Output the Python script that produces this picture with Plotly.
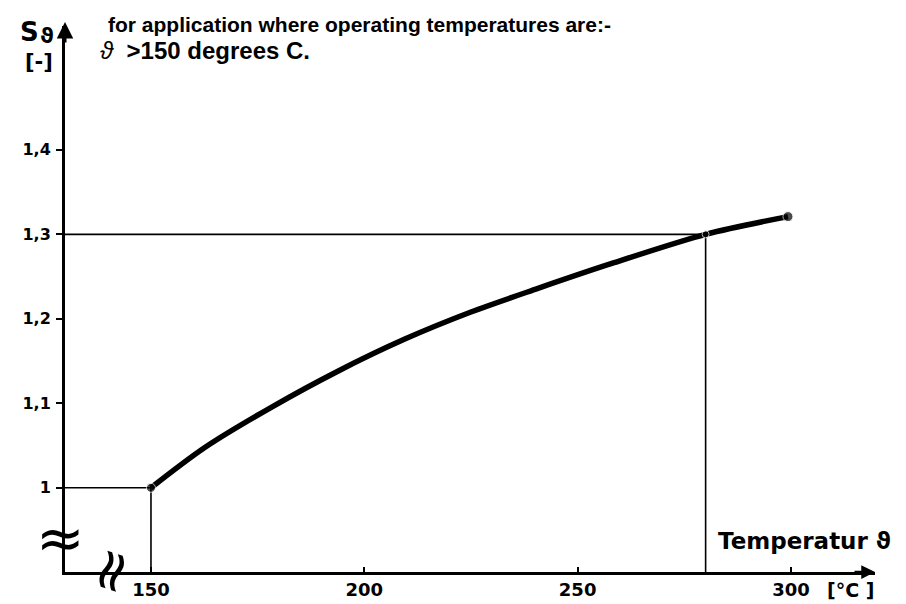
import plotly.graph_objects as go

# ---- data ----
curve_temp = [150, 162.7, 178.1, 193.8, 209.5, 225.0, 240.7, 257.1, 280, 299.3]
curve_s    = [1.000, 1.048, 1.095, 1.138, 1.176, 1.208, 1.236, 1.264, 1.300, 1.321]

point_temp = [150, 280, 299.3]
point_s    = [1.000, 1.300, 1.321]
point_size = [9, 7, 10]

guide_temp = [150, 280]
guide_s    = [1.0, 1.3]

x_ticks = [150, 200, 250, 300]
x_ticktext = ["150", "200", "250", "300"]
y_ticks = [1.0, 1.1, 1.2, 1.3, 1.4]
y_ticktext = ["1", "1,1", "1,2", "1,3", "1,4"]

x_range = [129.85, 319.7]
y_range = [0.9003, 1.5466]

W, H = 906, 604
ML, MR, MT, MB = 57, 39, 18, 35
PW, PH = W - ML - MR, H - MT - MB


def px(x):
    return (x - ML) / PW


def py(y):
    return (H - MB - y) / PH


fig = go.Figure()

# guide lines
for t, s in zip(guide_temp, guide_s):
    fig.add_trace(go.Scatter(x=[x_range[0], t, t], y=[s, s, y_range[0]],
                             mode="lines", line=dict(color="black", width=1.6),
                             hoverinfo="skip", showlegend=False))

# main curve
fig.add_trace(go.Scatter(x=curve_temp, y=curve_s, mode="lines",
                         line=dict(color="black", width=5.5, shape="spline", smoothing=0.9),
                         showlegend=False))

fig.add_trace(go.Scatter(x=point_temp, y=point_s, mode="markers",
                         marker=dict(color="black", size=point_size),
                         showlegend=False))

tick_font = dict(family="DejaVu Sans", size=18, color="black", weight="bold")

fig.update_xaxes(range=x_range, tickvals=x_ticks, ticktext=x_ticktext,
                 showline=True, linecolor="black", linewidth=2.5,
                 ticks="inside", ticklen=5, tickwidth=2, tickcolor="black",
                 showgrid=False, zeroline=False, tickfont=tick_font)
fig.update_yaxes(range=y_range, tickvals=y_ticks, ticktext=y_ticktext,
                 showline=True, linecolor="black", linewidth=3,
                 ticks="outside", ticklen=6, tickwidth=2, tickcolor="black",
                 ticklabelstandoff=2,
                 showgrid=False, zeroline=False,
                 tickfont=dict(family="DejaVu Sans", size=16, color="black", weight="bold"))

ann = []
# axis arrows
ann.append(dict(xref="paper", yref="paper", x=1.0, y=0, ax=-22, ay=0,
                showarrow=True, arrowhead=2, arrowsize=1.1, arrowwidth=2.5,
                arrowcolor="black", text=""))
ann.append(dict(xref="paper", yref="paper", x=0, y=py(14), ax=0, ay=22,
                showarrow=True, arrowhead=2, arrowsize=1.1, arrowwidth=3,
                arrowcolor="black", text=""))
# titles
ann.append(dict(xref="paper", yref="paper", x=px(98), y=py(16), xanchor="left", yanchor="middle",
                text="for application where operating temperatures are:-", showarrow=False,
                font=dict(family="Liberation Sans", size=21, color="black", weight="bold")))
ann.append(dict(xref="paper", yref="paper", x=px(90), y=py(43), xanchor="left", yanchor="middle",
                text="<i>ϑ</i>  <b>&gt;150 degrees C.</b>", showarrow=False,
                font=dict(family="Liberation Sans", size=24, color="black")))
# y axis label
ann.append(dict(xref="paper", yref="paper", x=px(21), y=py(24), xanchor="center", yanchor="middle",
                text="S", showarrow=False,
                font=dict(family="DejaVu Sans", size=26, color="black", weight="bold")))
ann.append(dict(xref="paper", yref="paper", x=px(39), y=py(28), xanchor="center", yanchor="middle",
                text="ϑ", showarrow=False,
                font=dict(family="DejaVu Sans", size=21, color="black", weight="bold")))
ann.append(dict(xref="paper", yref="paper", x=px(31), y=py(54), xanchor="center", yanchor="middle",
                text="[-]", showarrow=False,
                font=dict(family="DejaVu Sans", size=21, color="black", weight="bold")))
# x axis label
ann.append(dict(xref="paper", yref="paper", x=px(708), y=py(538), xanchor="left", yanchor="middle",
                text="Temperatur ϑ", showarrow=False,
                font=dict(family="DejaVu Sans", size=23, color="black", weight="bold")))
ann.append(dict(xref="paper", yref="paper", x=px(842), y=py(587), xanchor="center", yanchor="middle",
                text="[°C ]", showarrow=False,
                font=dict(family="DejaVu Sans", size=19, color="black", weight="bold")))
# axis break symbols
ann.append(dict(xref="paper", yref="paper", x=px(52), y=py(535), xanchor="center", yanchor="middle",
                text="≈", showarrow=False,
                font=dict(family="DejaVu Sans", size=58, color="black")))
ann.append(dict(xref="paper", yref="paper", x=px(102), y=py(568), xanchor="center", yanchor="middle",
                text="≈", showarrow=False, textangle=-72,
                font=dict(family="DejaVu Sans", size=58, color="black")))

fig.update_layout(width=W, height=H, margin=dict(l=ML, r=MR, t=MT, b=MB),
                  paper_bgcolor="white", plot_bgcolor="white",
                  annotations=ann, showlegend=False)

fig.write_html("out.html")
